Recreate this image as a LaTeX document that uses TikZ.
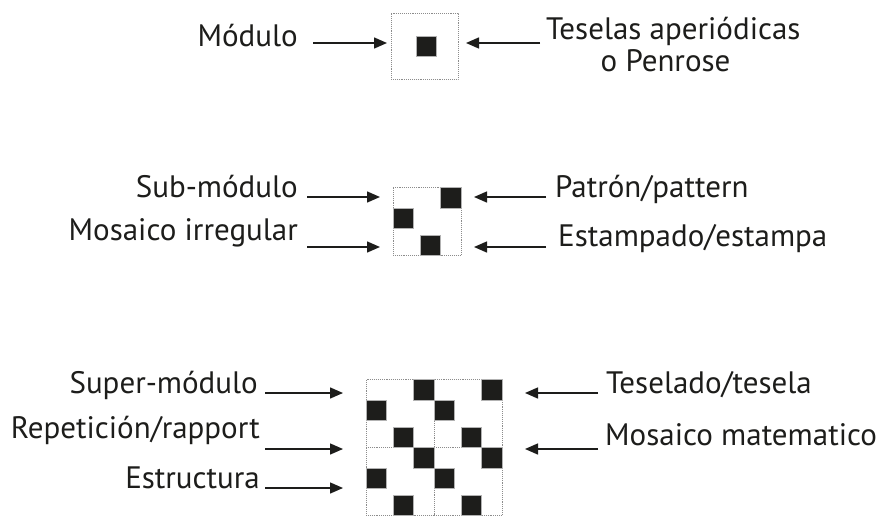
\documentclass[tikz,border=0pt]{standalone}
\usepackage{fontspec}
\setmainfont{PT Sans}
\usetikzlibrary{arrows.meta}
\definecolor{ink}{RGB}{29,29,27}
\definecolor{frame}{RGB}{140,140,140}
\tikzset{
  lbl/.style={inner sep=0pt, font=\fontsize{31}{35}\selectfont, text=ink},
  arr/.style={draw=ink, line width=1.4pt, -{Triangle[length=13pt,width=11pt]}},
  modbox/.style={draw=frame, densely dotted, line width=0.9pt, inner sep=0pt, outer sep=0pt},
  tile/.style={fill=ink, draw=gray!60, line width=0.3pt},
}
\newcommand\subtiles[2]{%
  \fill[tile] (#1+47.5,#2) rectangle (#1+68,#2+21);
  \fill[tile] (#1,#2+21) rectangle (#1+20.5,#2+41);
  \fill[tile] (#1+27,#2+48) rectangle (#1+47.5,#2+68);
}
\begin{document}
\begin{tikzpicture}[x=1pt,y=-1pt]
\useasboundingbox[fill=white] (0,0) rectangle (880,516);
% ---------- module ----------
\node[modbox, minimum width=67pt, minimum height=66pt] (m1) at (424.5,46) {};
\fill[tile] (416,36) rectangle (436,56);
\node[lbl, anchor=base east] (t1) at (298,47) {Módulo};
\node[lbl, anchor=base west] (t2) at (546,39.5) {Teselas aperiódicas};
\node[lbl, anchor=base] (t3) at (665.5,72) {o Penrose};
\coordinate (a1s) at (313,43); \coordinate (a1e) at (387,43);
\coordinate (a2s) at (540,43); \coordinate (a2e) at (466,43);
\draw[arr] (a1s) -- (a1e);
\draw[arr] (a2s) -- (a2e);
% ---------- sub-module ----------
\node[modbox, minimum size=68pt] (m2) at (427,221) {};
\subtiles{393}{187}
\node[lbl, anchor=base east] (t4) at (298,197) {Sub-módulo};
\node[lbl, anchor=base east] (t5) at (298,240) {Mosaico irregular};
\node[lbl, anchor=base west] (t6) at (555,197) {Patrón/pattern};
\node[lbl, anchor=base west] (t7) at (558,246.5) {Estampado/estampa};
\coordinate (b1s) at (307,197); \coordinate (b1e) at (380,197);
\coordinate (b2s) at (307,247); \coordinate (b2e) at (380,247);
\coordinate (b3s) at (546,197); \coordinate (b3e) at (474,197);
\coordinate (b4s) at (546,247); \coordinate (b4e) at (474,247);
\foreach \s/\e in {b1s/b1e,b2s/b2e,b3s/b3e,b4s/b4e} \draw[arr] (\s) -- (\e);
% ---------- super-module ----------
\node[modbox, minimum width=136pt, minimum height=136pt] (m3) at (434,447.5) {};
\draw[frame, densely dotted, line width=0.9pt] (m3.north) -- (m3.south);
\draw[frame, densely dotted, line width=0.9pt] (m3.west) -- (m3.east);
\subtiles{366}{379.5}
\subtiles{434}{379.5}
\subtiles{366}{447.5}
\subtiles{434}{447.5}
\node[lbl, anchor=base east] (t8) at (258,393) {Super-módulo};
\node[lbl, anchor=base east] (t9) at (260,438) {Repetición/rapport};
\node[lbl, anchor=base east] (t10) at (260,488) {Estructura};
\node[lbl, anchor=base west] (t11) at (606,393) {Teselado/tesela};
\node[lbl, anchor=base west] (t12) at (605,445) {Mosaico matematico};
\coordinate (c1s) at (265,393); \coordinate (c1e) at (343,393);
\coordinate (c2s) at (265,449); \coordinate (c2e) at (343,449);
\coordinate (c3s) at (265,488); \coordinate (c3e) at (343,488);
\coordinate (c4s) at (598,393); \coordinate (c4e) at (525,393);
\coordinate (c5s) at (598,449); \coordinate (c5e) at (525,449);
\foreach \s/\e in {c1s/c1e,c2s/c2e,c3s/c3e,c4s/c4e,c5s/c5e} \draw[arr] (\s) -- (\e);
\end{tikzpicture}
\end{document}
